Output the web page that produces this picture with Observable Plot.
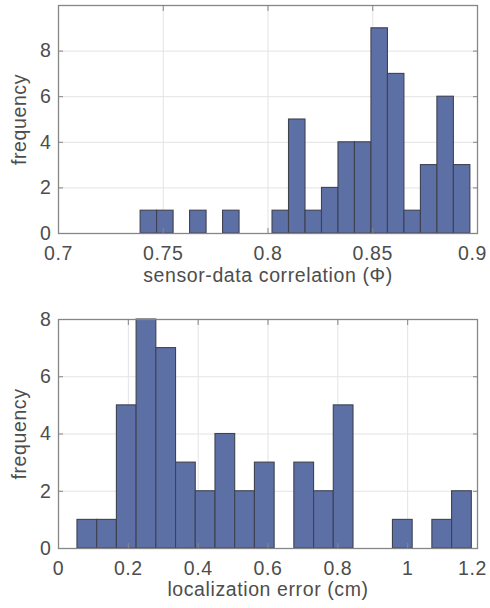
<!DOCTYPE html>
<html>
<head>
<meta charset="utf-8">
<script src="https://cdn.jsdelivr.net/npm/d3@7"></script>
<script src="https://cdn.jsdelivr.net/npm/@observablehq/plot@0.6"></script>
<style>
  html, body { margin: 0; padding: 0; background: #fff; }
  #charts { width: 490px; }
  #charts svg { display: block; }
</style>
</head>
<body>
<div id="charts"></div>
<script>
// Histogram 1: sensor-data correlation (Φ), 20 equal bins
const corrBinStart = 0.7392;
const corrBinWidth = 0.00787;
const corrCounts = [1, 1, 0, 1, 0, 1, 0, 0, 1, 5, 1, 2, 4, 4, 9, 7, 1, 3, 6, 3];
const corrTicksX = [0.7, 0.75, 0.8, 0.85, 0.9];
const corrTicksY = [0, 2, 4, 6, 8];

// Histogram 2: localization error (cm), 20 equal bins
const errBinStart = 0.0543;
const errBinWidth = 0.05647;
const errCounts = [1, 1, 5, 8, 7, 3, 2, 4, 2, 3, 0, 3, 2, 5, 0, 0, 1, 0, 1, 2];
const errTicksX = [0, 0.2, 0.4, 0.6, 0.8, 1, 1.2];
const errTicksY = [0, 2, 4, 6, 8];

const barFill = "#5d70a6";
const barEdge = "#3e4150";
const gridColor = "#e3e3e3";
const boxColor = "#868686";
const inkColor = "#4d4d4d";
const fontSize = 19.5;
const fmt = d => String(d);

function bins(start, width, counts) {
  return counts.map((n, i) => ({x1: start + i * width, x2: start + (i + 1) * width, n}));
}

function histogram({data, xDomain, yDomain, xTicks, yTicks, xLabel, height, marginTop, marginBottom, xLabelOffset}) {
  const innerTicks = xTicks.slice(0, -1);
  const lastTick = xTicks.slice(-1);
  return Plot.plot({
    width: 490,
    height,
    marginLeft: 58,
    marginRight: 13,
    marginTop,
    marginBottom,
    style: {
      fontFamily: "'Liberation Sans', Arial, sans-serif",
      fontSize: `${fontSize}px`,
      letterSpacing: "0.6px",
      color: inkColor,
      background: "#fff"
    },
    x: {domain: xDomain, ticks: xTicks},
    y: {domain: yDomain, ticks: yTicks},
    marks: [
      Plot.gridX(xTicks, {stroke: gridColor, strokeOpacity: 1}),
      Plot.gridY(yTicks, {stroke: gridColor, strokeOpacity: 1}),
      Plot.rectY(data, {x1: "x1", x2: "x2", y: "n", fill: barFill, stroke: barEdge, strokeWidth: 1.1, inset: 0}),
      Plot.frame({stroke: boxColor, strokeWidth: 1.3}),
      // inward ticks on all four sides
      Plot.axisX(xTicks, {anchor: "bottom", tickSize: -5, fill: "none", stroke: boxColor, label: null}),
      Plot.axisX(xTicks, {anchor: "top", tickSize: -5, fill: "none", stroke: boxColor, label: null}),
      Plot.axisY(yTicks, {anchor: "left", tickSize: -5, fill: "none", stroke: boxColor, label: null}),
      Plot.axisY(yTicks, {anchor: "right", tickSize: -5, fill: "none", stroke: boxColor, label: null}),
      // tick labels and titles
      Plot.axisX(innerTicks, {anchor: "bottom", tickSize: 0, tickPadding: 13, stroke: "none", fill: inkColor,
        fontSize, tickFormat: fmt,
        label: xLabel, labelAnchor: "center", labelArrow: "none", labelOffset: xLabelOffset}),
      // the rightmost label is nudged in so it stays on the page
      Plot.axisX(lastTick, {anchor: "bottom", tickSize: 0, tickPadding: 13, stroke: "none", fill: inkColor,
        fontSize, tickFormat: fmt, dx: -5, label: null}),
      Plot.axisY(yTicks, {anchor: "left", tickSize: 0, tickPadding: 7, stroke: "none", fill: inkColor,
        fontSize, tickFormat: fmt,
        label: "frequency", labelAnchor: "center", labelArrow: "none", labelOffset: 46})
    ]
  });
}

const root = document.getElementById("charts");
root.append(histogram({
  data: bins(corrBinStart, corrBinWidth, corrCounts),
  xDomain: [0.7, 0.9], yDomain: [0, 10],
  xTicks: corrTicksX, yTicks: corrTicksY,
  xLabel: "sensor-data correlation (Φ)",
  height: 300, marginTop: 5, marginBottom: 67, xLabelOffset: 48
}));
root.append(histogram({
  data: bins(errBinStart, errBinWidth, errCounts),
  xDomain: [0, 1.2], yDomain: [0, 8],
  xTicks: errTicksX, yTicks: errTicksY,
  xLabel: "localization error (cm)",
  height: 308, marginTop: 19, marginBottom: 60, xLabelOffset: 47
}));
</script>
</body>
</html>
